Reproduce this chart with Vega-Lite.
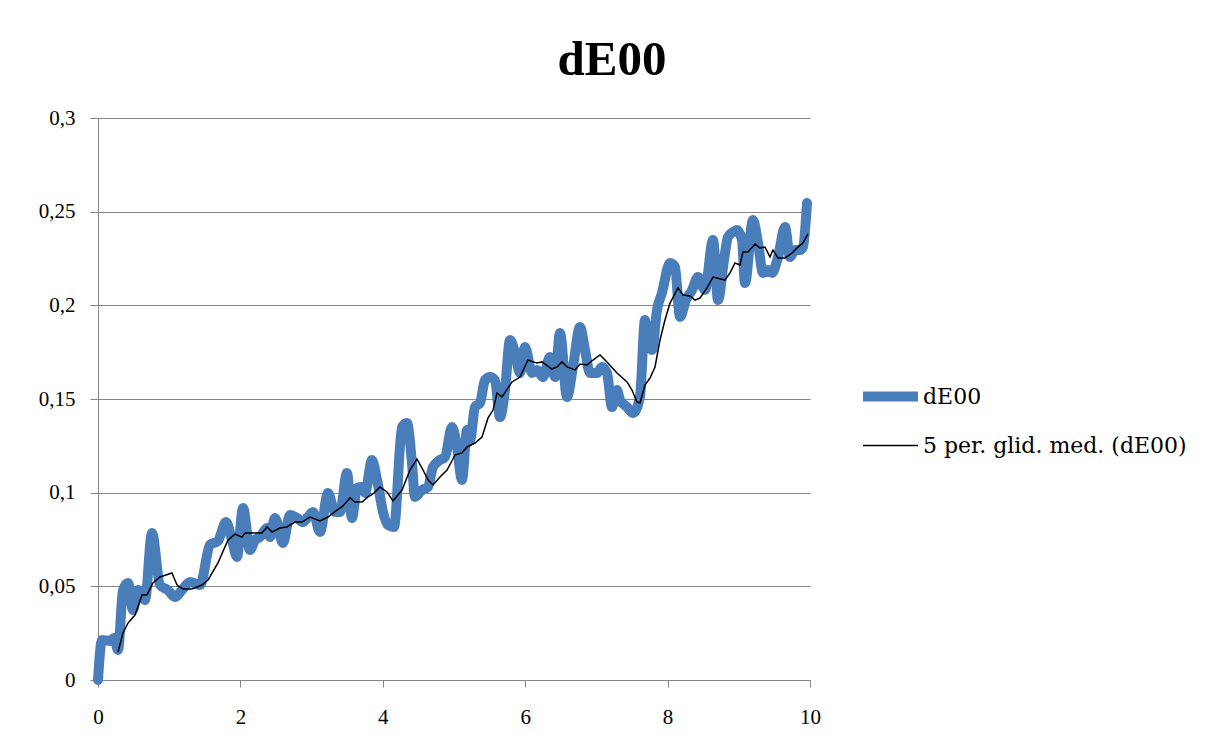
{
  "$schema": "https://vega.github.io/schema/vega-lite/v6.json",
  "width": 712,
  "height": 562,
  "autosize": "none",
  "padding": {"left": 98, "top": 118, "right": 404, "bottom": 58},
  "background": "white",
  "title": {
    "text": "dE00",
    "font": "Liberation Serif",
    "fontSize": 49,
    "fontWeight": "bold",
    "color": "black",
    "anchor": "middle",
    "dx": 158,
    "offset": 22
  },
  "config": {
    "view": {"stroke": null},
    "axis": {
      "labelFont": "Liberation Serif",
      "labelFontSize": 21,
      "labelColor": "black",
      "labelFlush": false,
      "labelOverlap": false,
      "domainColor": "#868686",
      "tickColor": "#868686",
      "gridColor": "#868686",
      "titleFont": "Liberation Serif"
    },
    "legend": {
      "labelFont": "DejaVu Serif",
      "labelFontSize": 22,
      "labelColor": "black",
      "labelLimit": 0
    }
  },
  "datasets": {
    "blue": [
      {"x": 0, "y": 0}, {"x": 0.056, "y": 0.0214}, {"x": 0.169, "y": 0.0208}, {"x": 0.225, "y": 0.0224},
      {"x": 0.281, "y": 0.016}, {"x": 0.351, "y": 0.048}, {"x": 0.421, "y": 0.0518}, {"x": 0.492, "y": 0.0374},
      {"x": 0.562, "y": 0.048}, {"x": 0.66, "y": 0.0427}, {"x": 0.758, "y": 0.0785}, {"x": 0.871, "y": 0.0507},
      {"x": 0.983, "y": 0.048}, {"x": 1.081, "y": 0.0443}, {"x": 1.18, "y": 0.048}, {"x": 1.292, "y": 0.0523},
      {"x": 1.433, "y": 0.0507}, {"x": 1.573, "y": 0.0721}, {"x": 1.685, "y": 0.0742}, {"x": 1.798, "y": 0.0843},
      {"x": 1.882, "y": 0.0747}, {"x": 1.952, "y": 0.0657}, {"x": 2.037, "y": 0.0918}, {"x": 2.135, "y": 0.0694},
      {"x": 2.205, "y": 0.0747}, {"x": 2.275, "y": 0.0763}, {"x": 2.374, "y": 0.0811}, {"x": 2.416, "y": 0.0763},
      {"x": 2.486, "y": 0.0865}, {"x": 2.598, "y": 0.0731}, {"x": 2.697, "y": 0.0881}, {"x": 2.795, "y": 0.0865},
      {"x": 2.879, "y": 0.0843}, {"x": 2.949, "y": 0.087}, {"x": 3.02, "y": 0.0897}, {"x": 3.118, "y": 0.079},
      {"x": 3.23, "y": 0.0998}, {"x": 3.329, "y": 0.0897}, {"x": 3.399, "y": 0.0897}, {"x": 3.497, "y": 0.1105},
      {"x": 3.567, "y": 0.0865}, {"x": 3.638, "y": 0.1025}, {"x": 3.708, "y": 0.103}, {"x": 3.75, "y": 0.0998},
      {"x": 3.848, "y": 0.1174}, {"x": 3.919, "y": 0.1068}, {"x": 4.003, "y": 0.0897}, {"x": 4.073, "y": 0.0827},
      {"x": 4.157, "y": 0.0817}, {"x": 4.27, "y": 0.1351}, {"x": 4.34, "y": 0.1372}, {"x": 4.41, "y": 0.1158},
      {"x": 4.452, "y": 0.0977}, {"x": 4.551, "y": 0.1014}, {"x": 4.635, "y": 0.103}, {"x": 4.705, "y": 0.1137},
      {"x": 4.803, "y": 0.1174}, {"x": 4.874, "y": 0.119}, {"x": 4.972, "y": 0.1351}, {"x": 5.042, "y": 0.1244},
      {"x": 5.112, "y": 0.1068}, {"x": 5.183, "y": 0.1335}, {"x": 5.225, "y": 0.1281}, {"x": 5.295, "y": 0.1457},
      {"x": 5.365, "y": 0.1479}, {"x": 5.435, "y": 0.1601}, {"x": 5.506, "y": 0.1617}, {"x": 5.576, "y": 0.1601},
      {"x": 5.646, "y": 0.1404}, {"x": 5.716, "y": 0.1548}, {"x": 5.787, "y": 0.1815}, {"x": 5.857, "y": 0.1746},
      {"x": 5.927, "y": 0.1639}, {"x": 5.997, "y": 0.1778}, {"x": 6.096, "y": 0.1639}, {"x": 6.166, "y": 0.1655},
      {"x": 6.25, "y": 0.1617}, {"x": 6.348, "y": 0.1724}, {"x": 6.419, "y": 0.1617}, {"x": 6.489, "y": 0.1852},
      {"x": 6.587, "y": 0.1511}, {"x": 6.671, "y": 0.1671}, {"x": 6.77, "y": 0.1884}, {"x": 6.84, "y": 0.1762},
      {"x": 6.91, "y": 0.1639}, {"x": 7.008, "y": 0.1639}, {"x": 7.079, "y": 0.1671}, {"x": 7.149, "y": 0.1639},
      {"x": 7.219, "y": 0.1457}, {"x": 7.289, "y": 0.1548}, {"x": 7.331, "y": 0.1495}, {"x": 7.43, "y": 0.1457},
      {"x": 7.514, "y": 0.1425}, {"x": 7.612, "y": 0.1511}, {"x": 7.683, "y": 0.1922}, {"x": 7.725, "y": 0.1815},
      {"x": 7.781, "y": 0.1762}, {"x": 7.851, "y": 0.1975}, {"x": 7.921, "y": 0.2066}, {"x": 8.034, "y": 0.2226},
      {"x": 8.104, "y": 0.2205}, {"x": 8.174, "y": 0.1938}, {"x": 8.258, "y": 0.2028}, {"x": 8.343, "y": 0.2082},
      {"x": 8.427, "y": 0.2151}, {"x": 8.525, "y": 0.2082}, {"x": 8.638, "y": 0.2349}, {"x": 8.708, "y": 0.2028},
      {"x": 8.792, "y": 0.2242}, {"x": 8.848, "y": 0.2365}, {"x": 8.919, "y": 0.2391}, {"x": 8.975, "y": 0.2402},
      {"x": 9.045, "y": 0.2349}, {"x": 9.087, "y": 0.2119}, {"x": 9.199, "y": 0.2456}, {"x": 9.27, "y": 0.2333},
      {"x": 9.34, "y": 0.2173}, {"x": 9.41, "y": 0.2189}, {"x": 9.466, "y": 0.2173}, {"x": 9.551, "y": 0.2258},
      {"x": 9.649, "y": 0.2418}, {"x": 9.719, "y": 0.2258}, {"x": 9.789, "y": 0.2295}, {"x": 9.86, "y": 0.2295},
      {"x": 9.902, "y": 0.2311}, {"x": 9.958, "y": 0.2546}
    ],
    "black": [
      {"x": 0.281, "y": 0.0149}, {"x": 0.351, "y": 0.0251}, {"x": 0.421, "y": 0.0304}, {"x": 0.52, "y": 0.0347},
      {"x": 0.618, "y": 0.0454}, {"x": 0.688, "y": 0.0454}, {"x": 0.772, "y": 0.0518}, {"x": 0.871, "y": 0.055},
      {"x": 1.039, "y": 0.0571}, {"x": 1.11, "y": 0.0507}, {"x": 1.194, "y": 0.0486}, {"x": 1.32, "y": 0.0486},
      {"x": 1.461, "y": 0.0507}, {"x": 1.545, "y": 0.0534}, {"x": 1.685, "y": 0.0625}, {"x": 1.826, "y": 0.0747},
      {"x": 1.924, "y": 0.0779}, {"x": 2.022, "y": 0.0763}, {"x": 2.065, "y": 0.0785}, {"x": 2.177, "y": 0.0785},
      {"x": 2.303, "y": 0.0785}, {"x": 2.374, "y": 0.0817}, {"x": 2.444, "y": 0.079}, {"x": 2.556, "y": 0.0811},
      {"x": 2.654, "y": 0.0817}, {"x": 2.767, "y": 0.0843}, {"x": 2.865, "y": 0.0843}, {"x": 2.978, "y": 0.087},
      {"x": 3.118, "y": 0.0849}, {"x": 3.23, "y": 0.087}, {"x": 3.357, "y": 0.0907}, {"x": 3.441, "y": 0.0929},
      {"x": 3.539, "y": 0.0972}, {"x": 3.61, "y": 0.095}, {"x": 3.708, "y": 0.095}, {"x": 3.792, "y": 0.0977},
      {"x": 3.862, "y": 0.0993}, {"x": 3.961, "y": 0.103}, {"x": 4.059, "y": 0.1004}, {"x": 4.143, "y": 0.0956},
      {"x": 4.27, "y": 0.1014}, {"x": 4.382, "y": 0.1121}, {"x": 4.48, "y": 0.118}, {"x": 4.565, "y": 0.1121},
      {"x": 4.635, "y": 0.1068}, {"x": 4.705, "y": 0.1041}, {"x": 4.803, "y": 0.1084}, {"x": 4.902, "y": 0.1121},
      {"x": 5.014, "y": 0.1201}, {"x": 5.112, "y": 0.1212}, {"x": 5.183, "y": 0.1244}, {"x": 5.295, "y": 0.1265},
      {"x": 5.393, "y": 0.1297}, {"x": 5.478, "y": 0.1399}, {"x": 5.548, "y": 0.1441}, {"x": 5.604, "y": 0.1532},
      {"x": 5.674, "y": 0.1511}, {"x": 5.815, "y": 0.1591}, {"x": 5.927, "y": 0.1617}, {"x": 6.039, "y": 0.1708},
      {"x": 6.11, "y": 0.1698}, {"x": 6.166, "y": 0.1692}, {"x": 6.236, "y": 0.1698}, {"x": 6.376, "y": 0.166},
      {"x": 6.447, "y": 0.1671}, {"x": 6.517, "y": 0.1698}, {"x": 6.587, "y": 0.1671}, {"x": 6.699, "y": 0.1655},
      {"x": 6.77, "y": 0.1687}, {"x": 6.868, "y": 0.1682}, {"x": 6.952, "y": 0.1708}, {"x": 7.051, "y": 0.1735},
      {"x": 7.149, "y": 0.1698}, {"x": 7.289, "y": 0.1639}, {"x": 7.43, "y": 0.1591}, {"x": 7.5, "y": 0.1548},
      {"x": 7.57, "y": 0.1484}, {"x": 7.612, "y": 0.1479}, {"x": 7.683, "y": 0.1575}, {"x": 7.753, "y": 0.1612},
      {"x": 7.823, "y": 0.1671}, {"x": 7.893, "y": 0.1815}, {"x": 7.963, "y": 0.1922}, {"x": 8.034, "y": 0.2012},
      {"x": 8.146, "y": 0.2093}, {"x": 8.216, "y": 0.2055}, {"x": 8.315, "y": 0.205}, {"x": 8.385, "y": 0.2028},
      {"x": 8.455, "y": 0.2039}, {"x": 8.553, "y": 0.2093}, {"x": 8.638, "y": 0.2151}, {"x": 8.806, "y": 0.2135},
      {"x": 8.876, "y": 0.2173}, {"x": 8.947, "y": 0.2226}, {"x": 9.017, "y": 0.2215}, {"x": 9.059, "y": 0.2285},
      {"x": 9.129, "y": 0.2285}, {"x": 9.228, "y": 0.2327}, {"x": 9.298, "y": 0.2306}, {"x": 9.368, "y": 0.2311},
      {"x": 9.438, "y": 0.2258}, {"x": 9.48, "y": 0.2295}, {"x": 9.551, "y": 0.2253}, {"x": 9.649, "y": 0.2253},
      {"x": 9.747, "y": 0.2279}, {"x": 9.831, "y": 0.2311}, {"x": 9.902, "y": 0.2333}, {"x": 9.972, "y": 0.2381}
    ]
  },
  "layer": [
    {
      "data": {"name": "blue"},
      "transform": [{"calculate": "'dE00'", "as": "series"}],
      "mark": {"type": "line", "interpolate": "monotone", "strokeCap": "round", "strokeJoin": "round"},
      "encoding": {
        "x": {
          "field": "x", "type": "quantitative",
          "scale": {"domain": [0, 10], "nice": false},
          "axis": {"values": [0, 2, 4, 6, 8, 10], "title": null, "grid": false, "tickSize": 7, "labelPadding": 19, "labelExpr": "replace(format(datum.value, '~g'), '.', ',')"}
        },
        "y": {
          "field": "y", "type": "quantitative",
          "scale": {"domain": [0, 0.3], "nice": false},
          "axis": {"values": [0, 0.05, 0.1, 0.15, 0.2, 0.25, 0.3], "title": null, "grid": true, "tickSize": 8, "labelPadding": 15, "labelExpr": "replace(format(datum.value, '~g'), '.', ',')"}
        },
        "color": {
          "field": "series", "type": "nominal",
          "scale": {"domain": ["dE00", "5 per. glid. med. (dE00)"], "range": ["#4A7EBB", "#000000"]},
          "legend": {"title": null, "orient": "none", "legendX": 760, "legendY": 246, "symbolType": "stroke", "symbolSize": 3025, "rowPadding": -10, "labelOffset": 0}
        },
        "strokeWidth": {
          "field": "series", "type": "nominal",
          "scale": {"domain": ["dE00", "5 per. glid. med. (dE00)"], "range": [10, 1.5]},
          "legend": {"title": null, "orient": "none", "legendX": 760, "legendY": 246, "symbolType": "stroke", "symbolSize": 3025, "rowPadding": -10, "labelOffset": 0}
        }
      }
    },
    {
      "data": {"name": "black"},
      "transform": [{"calculate": "'5 per. glid. med. (dE00)'", "as": "series"}],
      "mark": {"type": "line", "interpolate": "linear"},
      "encoding": {
        "x": {"field": "x", "type": "quantitative"},
        "y": {"field": "y", "type": "quantitative"},
        "color": {"field": "series", "type": "nominal"},
        "strokeWidth": {"field": "series", "type": "nominal"}
      }
    }
  ]
}
